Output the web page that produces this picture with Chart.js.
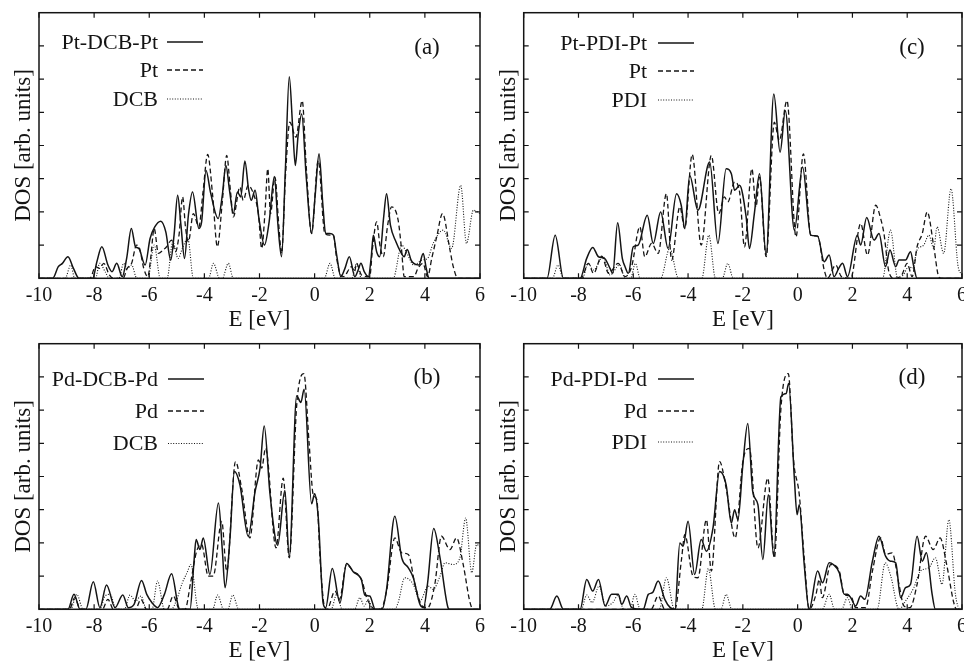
<!DOCTYPE html>
<html>
<head>
<meta charset="utf-8">
<script src="https://cdn.jsdelivr.net/npm/chart.js@4.4.1/dist/chart.umd.min.js"></script>
<style>
  html, body { margin: 0; padding: 0; background: #fff; overflow: hidden; }
  #page { position: relative; width: 964px; height: 662px; overflow: hidden; }
  #page canvas { position: absolute; }
</style>
</head>
<body>
<div id="page">
  <canvas id="panelA" width="500" height="331" style="left:0;top:0"></canvas>
  <canvas id="panelC" width="500" height="331" style="left:482px;top:0"></canvas>
  <canvas id="panelB" width="500" height="331" style="left:0;top:331px"></canvas>
  <canvas id="panelD" width="500" height="331" style="left:482px;top:331px"></canvas>
</div>
<script>
// axis ticks
const energyTicks = [-10, -8, -6, -4, -2, 0, 2, 4, 6];
const dosTicks = [1, 2, 3, 4, 5, 6, 7];

// ---- (a) Pt-DCB-Pt : [E, DOS] ----
const ptDcbPt = [[-10,0],[-9.5,0],[-9.3,0.35],[-9.15,0.45],[-8.95,0.65],[-8.75,0.3],[-8.55,0],[-8.05,0],[-7.9,0.5],[-7.72,0.95],[-7.5,0.4],[-7.35,0.2],[-7.18,0.45],[-6.98,0.05],[-6.82,0.6],[-6.65,1.5],[-6.5,0.95],[-6.38,0.9],[-6.15,0.4],[-5.97,1.2],[-5.8,1.55],[-5.58,1.72],[-5.4,1.4],[-5.22,0.55],[-5.1,1.3],[-4.97,2.5],[-4.85,1.6],[-4.72,0.6],[-4.58,1.9],[-4.43,2.6],[-4.2,1.5],[-4.1,1.7],[-3.94,3.25],[-3.78,2.6],[-3.5,1.8],[-3.35,2.5],[-3.22,3.4],[-3.08,2.6],[-2.95,1.95],[-2.8,2.6],[-2.68,2.45],[-2.53,3.53],[-2.4,2.7],[-2.3,2.35],[-2.16,2.65],[-2.02,1.8],[-1.82,1.0],[-1.65,1.7],[-1.46,3.07],[-1.33,1.6],[-1.2,0.65],[-1.06,3.3],[-0.92,6.07],[-0.8,4.6],[-0.7,3.4],[-0.6,4.3],[-0.47,4.95],[-0.3,3.0],[-0.11,1.35],[0.02,2.5],[0.16,3.75],[0.3,2.2],[0.4,1.35],[0.55,1.35],[0.68,1.3],[0.8,0.7],[0.95,0.05],[1.1,0.3],[1.26,0.65],[1.46,0.05],[1.58,0.25],[1.68,0.45],[1.8,0.2],[1.95,0.05],[2.05,0.6],[2.13,1.3],[2.25,0.8],[2.36,0.65],[2.5,1.8],[2.61,2.55],[2.75,1.6],[2.95,1.1],[3.15,0.75],[3.25,0.65],[3.36,0.87],[3.5,0.55],[3.6,0.45],[3.78,0.4],[3.94,0.75],[4.05,0.3],[4.15,0],[6,0]];
const ptInDcb = [[-10,0],[-8.15,0],[-7.95,0.35],[-7.8,0.3],[-7.65,0.45],[-7.45,0.1],[-7.3,0],[-6.95,0],[-6.8,0.3],[-6.64,0.45],[-6.46,1.0],[-6.35,0.9],[-6.2,0.3],[-6.05,0.05],[-5.95,0.6],[-5.82,1.5],[-5.67,0.75],[-5.5,0.85],[-5.37,0.95],[-5.19,1.15],[-5.05,0.8],[-4.92,1.3],[-4.79,2.45],[-4.68,1.5],[-4.58,1.1],[-4.4,1.95],[-4.2,1.55],[-4.05,2.6],[-3.88,3.73],[-3.7,2.5],[-3.53,0.95],[-3.35,2.3],[-3.19,3.7],[-3.05,2.6],[-2.95,1.85],[-2.71,2.75],[-2.59,2.35],[-2.41,2.8],[-2.2,2.5],[-2.04,1.95],[-1.92,0.9],[-1.8,2.0],[-1.7,3.3],[-1.6,1.95],[-1.44,3.05],[-1.3,1.6],[-1.2,0.75],[-1.05,3.2],[-0.9,4.7],[-0.68,4.25],[-0.45,5.35],[-0.3,3.3],[-0.11,1.35],[0.13,3.55],[0.37,1.35],[0.55,1.3],[0.68,1.3],[0.8,0.6],[0.92,0.15],[1.05,0.05],[1.34,0.35],[1.45,0.2],[1.52,0.45],[1.7,0.1],[2.0,0.05],[2.1,0.9],[2.25,1.7],[2.37,1.0],[2.49,0.65],[2.65,1.6],[2.79,2.15],[3.03,1.75],[3.15,0.9],[3.25,0.05],[3.6,0.05],[3.75,0.3],[3.93,0.45],[4.1,0.05],[4.25,0.6],[4.43,1.25],[4.64,1.95],[4.9,0.9],[5.03,0.35],[5.2,0],[6,0]];
const dcbInPt = [[-10,0],[-9.05,0],[-8.85,0.4],[-8.7,0],[-7.95,0],[-7.8,0.45],[-7.6,0.2],[-7.45,0],[-7.1,0],[-6.93,0.45],[-6.8,0.3],[-6.64,0.4],[-6.45,0],[-6.05,0],[-5.82,1.0],[-5.6,0],[-5.35,0],[-5.15,1.1],[-4.95,0.6],[-4.8,0.9],[-4.6,1.2],[-4.4,0],[-3.85,0],[-3.67,0.45],[-3.45,0],[-3.35,0],[-3.13,0.45],[-2.95,0],[0.35,0],[0.56,0.45],[0.75,0],[1.35,0],[1.52,0.45],[1.7,0],[2.85,0],[3.16,1.0],[3.35,0.75],[3.6,0.4],[3.9,0.55],[4.1,0.6],[4.3,1.05],[4.67,1.45],[4.97,0.9],[5.3,2.8],[5.51,1.05],[5.76,2.05],[6.0,1.95]];

// ---- (c) Pt-PDI-Pt ----
const ptPdiPt = [[-10,0],[-9.15,0],[-8.85,1.3],[-8.55,0],[-7.94,0],[-7.7,0.6],[-7.48,0.93],[-7.27,0.65],[-7.05,0.6],[-6.85,0.3],[-6.75,0.15],[-6.57,1.67],[-6.4,0.6],[-6.3,0.35],[-6.18,0.15],[-6.0,0.95],[-5.82,1.0],[-5.49,1.9],[-5.27,1.05],[-5.0,2.0],[-4.73,0.9],[-4.42,2.55],[-4.25,2.2],[-4.12,1.5],[-3.94,3.1],[-3.64,2.05],[-3.21,3.5],[-2.91,1.05],[-2.61,3.3],[-2.42,3.15],[-2.3,2.65],[-2.12,2.8],[-1.88,1.85],[-1.76,0.9],[-1.58,1.95],[-1.39,3.15],[-1.15,0.7],[-0.87,5.55],[-0.64,3.8],[-0.45,5.05],[-0.12,1.45],[0.18,3.35],[0.48,1.3],[0.73,1.27],[0.97,0.5],[1.15,0.7],[1.33,0.05],[1.5,0.3],[1.64,0.45],[1.82,0.05],[2.18,1.3],[2.3,1.0],[2.52,1.83],[2.79,1.15],[2.97,1.35],[3.21,0.35],[3.37,0.85],[3.58,0.35],[3.7,0.55],[3.94,0.55],[4.12,0.8],[4.24,0.35],[4.36,0],[6,0]];
const ptInPdi = [[-10,0],[-7.9,0],[-7.64,0.45],[-7.45,0.15],[-7.15,0.67],[-6.9,0.15],[-6.55,0.45],[-6.3,0.05],[-6.06,0.35],[-5.76,1.55],[-5.58,0.65],[-5.33,1.05],[-5.09,0.75],[-4.79,2.55],[-4.6,0.55],[-4.3,2.15],[-4.12,1.5],[-3.85,3.73],[-3.52,1.0],[-3.15,3.7],[-2.88,1.95],[-2.67,2.45],[-2.55,2.3],[-2.3,2.9],[-2.12,2.6],[-1.94,0.95],[-1.67,3.3],[-1.52,2.15],[-1.39,3.05],[-1.15,0.65],[-0.85,4.7],[-0.67,4.15],[-0.39,5.35],[-0.06,1.25],[0.21,3.75],[0.48,1.3],[0.73,1.27],[0.97,0.25],[1.09,0],[1.39,0.4],[1.6,0.05],[1.94,0],[2.3,1.65],[2.55,0.7],[2.85,2.2],[3.03,1.8],[3.15,1.35],[3.33,0.2],[3.52,0],[3.8,0.1],[4.0,0.45],[4.18,0.05],[4.36,0.95],[4.55,1.35],[4.73,2.0],[4.97,0.95],[5.15,0.05],[5.25,0],[6,0]];
const pdiInPt = [[-10,0],[-8.95,0],[-8.75,0.4],[-8.55,0],[-7.85,0],[-7.65,0.45],[-7.45,0.25],[-7.1,0.65],[-6.85,0.1],[-6.5,0.4],[-6.3,0],[-6.1,0],[-5.92,0.45],[-5.75,0],[-5.0,0],[-4.67,0.9],[-4.35,0],[-3.5,0],[-3.24,1.3],[-3.0,0],[-2.75,0],[-2.55,0.45],[-2.35,0],[3.1,0],[3.39,1.45],[3.65,0],[3.85,0.1],[4.06,0.35],[4.2,0.3],[4.36,0.85],[4.6,1.0],[4.79,1.3],[4.97,0.9],[5.09,1.55],[5.33,0.75],[5.6,2.7],[5.85,0.4],[6,0.1]];

// ---- (b) Pd-DCB-Pd ----
const pdDcbPd = [[-10,0],[-8.95,0],[-8.73,0.45],[-8.51,0],[-8.3,0],[-8.03,0.83],[-7.79,0.05],[-7.55,0.73],[-7.24,0.05],[-6.96,0.43],[-6.76,0.05],[-6.55,0.15],[-6.28,0.87],[-6.09,0.45],[-5.9,0.2],[-5.7,0.05],[-5.45,0.45],[-5.19,1.07],[-4.95,0.1],[-4.89,0],[-4.52,0],[-4.38,1.4],[-4.3,2.1],[-4.16,1.8],[-4.04,2.15],[-3.8,1.05],[-3.49,3.2],[-3.35,1.8],[-3.25,0.65],[-3.07,2.15],[-2.91,4.15],[-2.71,3.75],[-2.41,2.2],[-2.16,3.55],[-1.98,4.25],[-1.83,5.52],[-1.62,3.48],[-1.34,1.93],[-1.08,3.58],[-0.92,1.58],[-0.65,6.43],[-0.5,6.23],[-0.38,6.63],[-0.11,3.18],[0.0,3.48],[0.13,2.78],[0.31,0.18],[0.4,0.05],[0.64,1.23],[0.92,0.2],[1.16,1.38],[1.4,1.13],[1.7,0.88],[1.82,0.43],[2.0,0.4],[2.2,0],[2.45,0],[2.61,0.6],[2.91,2.8],[3.16,1.55],[3.4,1.25],[3.58,0.95],[3.82,0.15],[3.95,0.05],[4.1,0.8],[4.32,2.43],[4.55,1.55],[4.84,0.05],[4.9,0],[6,0]];
const pdInDcb = [[-10,0],[-8.9,0],[-8.7,0.35],[-8.5,0],[-7.7,0],[-7.5,0.3],[-7.3,0],[-6.5,0],[-6.3,0.3],[-6.1,0],[-5.35,0],[-5.13,0.4],[-4.9,0],[-4.7,0],[-4.5,0.8],[-4.28,1.75],[-4.1,1.95],[-3.86,1.0],[-3.68,1.0],[-3.37,2.65],[-3.19,1.15],[-2.87,4.45],[-2.65,3.65],[-2.35,2.15],[-2.04,4.5],[-1.92,4.25],[-1.78,4.85],[-1.4,1.85],[-1.14,3.95],[-0.92,1.55],[-0.65,6.15],[-0.39,7.1],[-0.2,5.0],[-0.05,3.45],[0.08,3.3],[0.2,1.5],[0.35,0.1],[0.45,0],[0.74,0.55],[0.9,0.3],[1.16,1.35],[1.4,1.15],[1.7,0.9],[1.89,0.35],[2.2,0],[2.4,0],[2.61,0.55],[2.91,2.15],[3.16,1.7],[3.4,1.65],[3.64,0.75],[3.9,0.1],[4.1,0.05],[4.36,0.75],[4.6,2.2],[4.91,1.8],[5.15,2.15],[5.39,1.35],[5.64,0.2],[5.75,0],[6,0]];
const dcbInPd = [[-10,0],[-8.85,0],[-8.63,0.45],[-8.4,0],[-7.8,0],[-7.6,0.4],[-7.42,0.45],[-7.2,0],[-6.9,0],[-6.7,0.43],[-6.5,0.25],[-6.3,0.4],[-6.1,0],[-5.9,0],[-5.7,0.85],[-5.45,0],[-5.2,0],[-5.0,0.3],[-4.8,0.8],[-4.63,1.1],[-4.49,1.35],[-4.22,0],[-3.7,0],[-3.52,0.43],[-3.3,0],[-3.15,0],[-2.97,0.43],[-2.75,0],[0.6,0],[0.8,0.45],[1.0,0],[1.45,0],[1.64,0.35],[1.8,0.1],[1.95,0.3],[2.1,0],[2.9,0],[3.03,0.2],[3.27,0.95],[3.58,0.75],[3.82,0.25],[4.12,0.7],[4.3,0.6],[4.55,1.0],[4.73,1.4],[5.03,1.35],[5.27,1.55],[5.48,2.75],[5.7,1.1],[5.88,1.95],[6,1.9]];

// ---- (d) Pd-PDI-Pd ----
const pdPdiPd = [[-10,0],[-9.05,0],[-8.79,0.4],[-8.55,0],[-7.94,0],[-7.7,0.9],[-7.48,0.55],[-7.27,0.9],[-7.03,0.1],[-6.79,0.45],[-6.55,0.45],[-6.42,0.15],[-6.24,0.4],[-6.06,0.05],[-5.64,0],[-5.45,0.45],[-5.3,0.5],[-5.09,0.85],[-4.85,0.3],[-4.65,0.05],[-4.48,0],[-4.3,2.0],[-4.18,1.9],[-4.0,2.65],[-3.76,1.05],[-3.52,2.1],[-3.33,1.75],[-3.09,2.45],[-2.85,4.15],[-2.61,3.75],[-2.42,2.6],[-2.3,3.0],[-2.18,2.7],[-2.0,4.35],[-1.82,5.6],[-1.64,3.55],[-1.45,3.15],[-1.27,1.5],[-1.07,3.45],[-0.87,1.6],[-0.61,6.4],[-0.42,6.5],[-0.33,6.8],[-0.12,3.95],[-0.02,2.85],[0.06,3.15],[0.24,1.35],[0.42,0],[0.73,1.15],[0.91,0.8],[1.15,1.4],[1.3,1.35],[1.52,1.1],[1.7,0.45],[1.82,0.45],[1.94,0.35],[2.12,0.1],[2.3,0.4],[2.45,0.3],[2.73,1.45],[2.97,2.2],[3.21,1.6],[3.39,1.45],[3.58,1.4],[3.76,0.35],[3.94,0.65],[4.12,0.75],[4.36,2.2],[4.55,1.45],[4.7,1.7],[4.91,0.45],[5.03,0],[6,0]];
const pdInPdi = [[-10,0],[-5.35,0],[-5.09,0.4],[-4.85,0],[-4.48,0],[-4.24,1.5],[-4.12,2.25],[-3.82,1.0],[-3.64,0.95],[-3.33,2.7],[-3.15,1.15],[-2.85,4.45],[-2.61,3.65],[-2.28,2.15],[-2.0,4.45],[-1.76,4.85],[-1.45,1.85],[-1.09,3.95],[-0.85,1.55],[-0.61,6.05],[-0.34,7.1],[-0.15,4.5],[0.06,3.45],[0.24,1.55],[0.42,0],[0.67,0.45],[0.79,0.9],[0.9,0.35],[1.21,1.35],[1.52,1.15],[1.7,0.45],[1.94,0.4],[2.12,0.05],[2.48,0.05],[2.73,1.15],[3.03,2.15],[3.21,1.65],[3.45,1.7],[3.7,0.75],[3.88,0.1],[4.1,0.05],[4.36,0.75],[4.67,2.2],[4.95,1.8],[5.2,2.15],[5.44,1.35],[5.7,0.2],[5.8,0],[6,0]];
const pdiInPd = [[-10,0],[-7.9,0],[-7.7,0.43],[-7.5,0.2],[-7.25,0.7],[-7.0,0.1],[-6.75,0.2],[-6.55,0.43],[-6.35,0],[-6.12,0],[-5.94,0.45],[-5.75,0],[-5.05,0],[-4.79,0.95],[-4.5,0],[-3.5,0],[-3.26,1.23],[-3.0,0],[-2.8,0],[-2.61,0.45],[-2.4,0],[0.9,0],[1.15,0.45],[1.35,0],[1.6,0],[1.82,0.35],[2.0,0],[2.9,0],[3.2,1.4],[3.4,1.0],[3.7,0],[3.94,0.25],[4.24,0.65],[4.48,1.15],[4.79,1.25],[5.03,1.55],[5.27,0.75],[5.52,2.7],[5.76,0.45],[5.95,0],[6,0]];

const INK = "#141414";
const SERIF = "'Liberation Serif', 'DejaVu Serif', serif";
const SOLID = { dash: [], width: 1.5 };
const DASHED = { dash: [5, 3], width: 1.3 };
const DOTTED = { dash: [1, 1.6], width: 1.1 };

// frame, inward ticks, legend and panel tag
const panelDecor = {
    id: "panelDecor",
    afterDatasetsDraw(chart, args, opts) {
        const { ctx, chartArea: a, scales: { x, y } } = chart;
        ctx.save();
        ctx.strokeStyle = INK;
        ctx.lineWidth = 1.5;
        ctx.strokeRect(a.left, a.top, a.right - a.left, a.bottom - a.top);

        ctx.lineWidth = 1.2;
        ctx.beginPath();
        energyTicks.forEach(v => {
            const px = x.getPixelForValue(v);
            ctx.moveTo(px, a.bottom); ctx.lineTo(px, a.bottom - 5);
            ctx.moveTo(px, a.top); ctx.lineTo(px, a.top + 5);
        });
        dosTicks.forEach(v => {
            const py = y.getPixelForValue(v);
            ctx.moveTo(a.left, py); ctx.lineTo(a.left + 5, py);
            ctx.moveTo(a.right, py); ctx.lineTo(a.right - 5, py);
        });
        ctx.stroke();

        ctx.fillStyle = INK;
        ctx.font = "22px " + SERIF;
        ctx.textAlign = "right";
        ctx.textBaseline = "middle";
        chart.data.datasets.forEach((ds, i) => {
            const yy = opts.rows[i];
            ctx.fillText(ds.label, opts.textRight, yy + 1);
            ctx.setLineDash(ds.borderDash);
            ctx.lineWidth = ds.borderWidth;
            ctx.beginPath();
            ctx.moveTo(opts.lineX0, yy);
            ctx.lineTo(opts.lineX1, yy);
            ctx.stroke();
        });
        ctx.setLineDash([]);

        ctx.textAlign = "center";
        ctx.font = "23px " + SERIF;
        ctx.fillText(opts.tag, opts.tagX, opts.tagY);
        ctx.restore();
    }
};

function drawPanel(canvasId, series, p) {
    new Chart(document.getElementById(canvasId), {
        type: "line",
        data: {
            datasets: series.map(s => ({
                label: s.label,
                data: s.points.map(([e, d]) => ({ x: e, y: d })),
                borderColor: INK,
                borderWidth: s.style.width,
                borderDash: s.style.dash,
                pointRadius: 0,
                cubicInterpolationMode: "monotone",
                fill: false
            }))
        },
        options: {
            responsive: false,
            animation: false,
            events: [],
            layout: { padding: { top: 12.7, right: 500 - p.right, left: 0, bottom: 0 } },
            plugins: {
                legend: { display: false },
                tooltip: { enabled: false },
                panelDecor: p.decor
            },
            scales: {
                x: {
                    type: "linear",
                    min: -10,
                    max: 6,
                    afterBuildTicks: s => { s.ticks = energyTicks.map(v => ({ value: v })); },
                    grid: { display: false, drawTicks: false },
                    border: { display: false },
                    ticks: { padding: 5, maxRotation: 0, autoSkip: false, color: INK, font: { family: SERIF, size: 20 } },
                    title: { display: true, text: "E [eV]", color: INK, font: { family: SERIF, size: 23, lineHeight: 1 }, padding: { top: 0, bottom: 0 } },
                    afterFit: s => { s.height = 52.7; }
                },
                y: {
                    min: 0,
                    max: 8,
                    ticks: { display: false },
                    grid: { display: false, drawTicks: false },
                    border: { display: false },
                    title: { display: true, text: "DOS [arb. units]", color: INK, font: { family: SERIF, size: 23, lineHeight: 1 }, padding: { top: p.titlePad, bottom: 0 } },
                    afterFit: s => { s.width = p.left; }
                }
            }
        },
        plugins: [panelDecor]
    });
}

drawPanel("panelA", [
    { label: "Pt-DCB-Pt", points: ptDcbPt, style: SOLID },
    { label: "Pt", points: ptInDcb, style: DASHED },
    { label: "DCB", points: dcbInPt, style: DOTTED }
], { left: 39, right: 480, titlePad: 12,
     decor: { rows: [42, 70, 99], textRight: 158, lineX0: 167, lineX1: 203, tag: "(a)", tagX: 427, tagY: 48 } });

drawPanel("panelC", [
    { label: "Pt-PDI-Pt", points: ptPdiPt, style: SOLID },
    { label: "Pt", points: ptInPdi, style: DASHED },
    { label: "PDI", points: pdiInPt, style: DOTTED }
], { left: 41.7, right: 480, titlePad: 15,
     decor: { rows: [43, 71, 100], textRight: 165, lineX0: 176, lineX1: 212, tag: "(c)", tagX: 430, tagY: 48 } });

drawPanel("panelB", [
    { label: "Pd-DCB-Pd", points: pdDcbPd, style: SOLID },
    { label: "Pd", points: pdInDcb, style: DASHED },
    { label: "DCB", points: dcbInPd, style: DOTTED }
], { left: 39, right: 480, titlePad: 12,
     decor: { rows: [48, 80, 112.5], textRight: 158, lineX0: 168, lineX1: 204, tag: "(b)", tagX: 427, tagY: 47 } });

drawPanel("panelD", [
    { label: "Pd-PDI-Pd", points: pdPdiPd, style: SOLID },
    { label: "Pd", points: pdInPdi, style: DASHED },
    { label: "PDI", points: pdiInPd, style: DOTTED }
], { left: 41.7, right: 480, titlePad: 15,
     decor: { rows: [48, 80, 111], textRight: 165, lineX0: 176, lineX1: 212, tag: "(d)", tagX: 430, tagY: 47 } });
</script>
</body>
</html>
